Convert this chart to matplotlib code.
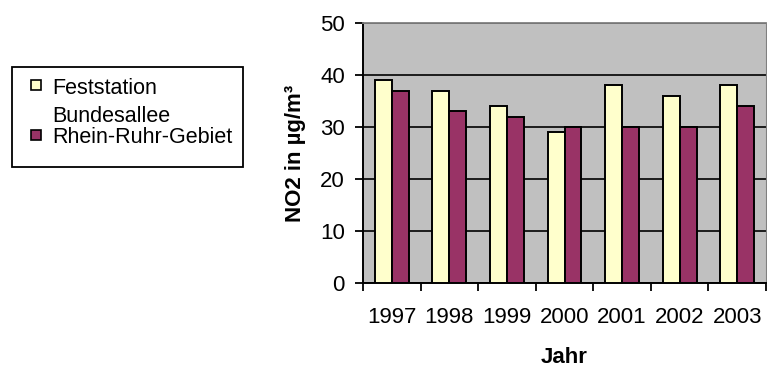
import numpy as np
import matplotlib.pyplot as plt
from matplotlib.patches import Rectangle

plt.rcParams['font.family'] = ['Liberation Sans', 'DejaVu Sans']

# NO2 annual means
years = ['1997', '1998', '1999', '2000', '2001', '2002', '2003']
feststation = [39, 37, 34, 29, 38, 36, 38]
rhein_ruhr = [37, 33, 32, 30, 30, 30, 34]
series_names = [['Feststation', 'Bundesallee'], ['Rhein-Ruhr-Gebiet']]
colors = ['#FFFFCC', '#993366']

fig = plt.figure(figsize=(7.67, 3.72), dpi=100)
ax = fig.add_axes([363 / 767, 89 / 372, 403 / 767, 260 / 372])
ax.set_facecolor('#C0C0C0')

x = np.arange(len(years))
w = 0.295
ax.bar(x - w / 2, feststation, w, color=colors[0], edgecolor='black', linewidth=1.4, zorder=3)
ax.bar(x + w / 2, rhein_ruhr, w, color=colors[1], edgecolor='black', linewidth=1.4, zorder=3)

ax.set_xlim(-0.5, len(years) - 0.5)
ax.set_ylim(0, 50)
ax.set_yticks(np.arange(0, 51, 10))
ax.yaxis.grid(True, color='black', linewidth=1.2, zorder=1)
ax.set_axisbelow(True)

ax.set_xticks(x)
ax.set_xticklabels(years)
ax.set_xticks(np.arange(-0.5, len(years), 1), minor=True)
ax.tick_params(axis='x', which='major', length=0, pad=17, labelsize=16)
ax.tick_params(axis='x', which='minor', length=6, width=1.3, direction='out')
ax.tick_params(axis='y', length=6, width=1.3, pad=7, labelsize=16)

ax.spines['left'].set_linewidth(1.4)
ax.spines['bottom'].set_linewidth(1.4)
ax.spines['top'].set_color('#808080')
ax.spines['top'].set_linewidth(1.3)
ax.spines['right'].set_color('#808080')

ax.set_xlabel('Jahr', fontsize=16, fontweight='bold', labelpad=14)
ax.set_ylabel('NO2 in µg/m³', fontsize=16, fontweight='bold', labelpad=10)

# legend box drawn at figure level
fig.patches.append(Rectangle((12 / 767, 1 - 167 / 372), 231 / 767, 100 / 372,
                             transform=fig.transFigure, facecolor='white',
                             edgecolor='black', linewidth=1.3))
marker_rows = [85, 135]
text_rows = [[94, 122], [143]]
for lines, col, mrow, trows in zip(series_names, colors, marker_rows, text_rows):
    fig.patches.append(Rectangle((31 / 767, 1 - (mrow + 5) / 372), 10 / 767, 10 / 372,
                                 transform=fig.transFigure, facecolor=col,
                                 edgecolor='black', linewidth=1.2))
    for line, trow in zip(lines, trows):
        fig.text(52 / 767, 1 - trow / 372, line, fontsize=15.5,
                 va='baseline', ha='left')

fig.savefig('out.png', dpi=100)
